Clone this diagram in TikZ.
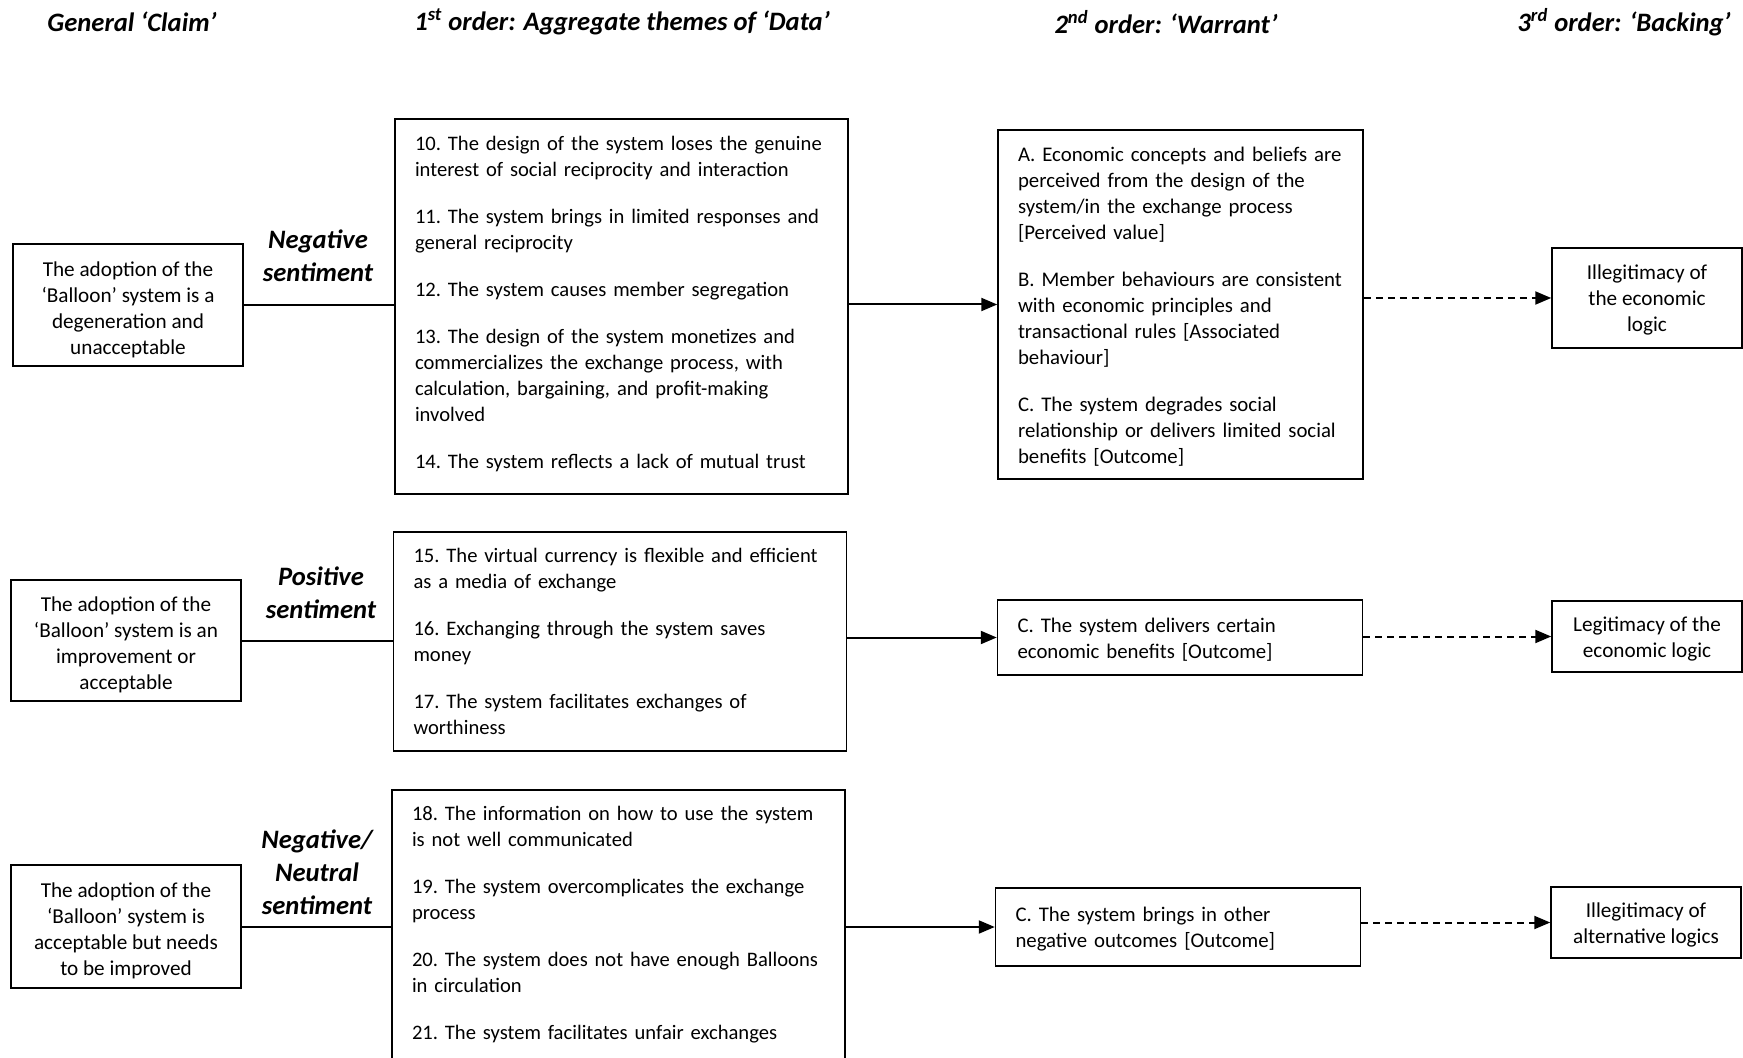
\documentclass[tikz,border=0pt]{standalone}
\usepackage{fontspec}
\setmainfont{Carlito}
\usepackage{tikz}
\usetikzlibrary{arrows.meta, calc}
\newcommand{\bodyfont}{\fontsize{10.6pt}{13pt}\selectfont\frenchspacing}
\newcommand{\listfont}{\fontsize{10.3pt}{13pt}\selectfont\frenchspacing}
\newcommand{\warrfont}{\fontsize{10.4pt}{13pt}\selectfont\frenchspacing}
\newcommand{\headfont}{\fontsize{13.3pt}{16.5pt}\selectfont\bfseries\itshape}
\tikzset{
    basebox/.style={rectangle, draw=black, line width=0.75pt, font=\bodyfont,
                    inner xsep=10pt, inner ysep=0pt},
    claimbox/.style={basebox, align=flush center, text width=111pt, inner xsep=2pt,
                     execute at begin node={\rule{0pt}{11.8pt}}},
    databox/.style={basebox, font=\listfont, align=left, text width=206.5pt,
                    execute at begin node={\rightskip=-14pt plus 1fil}},
    warrbox/.style={basebox, font=\warrfont, align=left, text width=162.5pt,
                    execute at begin node={\rightskip=-14pt plus 1fil\rule{0pt}{9.5pt}}},
    backbox/.style={basebox, align=flush center, text width=91pt, inner xsep=2pt,
                    execute at begin node={\rule{0pt}{9.5pt}}},
    colhead/.style={font=\headfont, inner sep=0pt},
    sentlbl/.style={font=\headfont, align=center, inner sep=0pt},
    link/.style={line width=1pt, draw=black},
    arrow/.style={-{Triangle[length=8pt, width=6.5pt]}, line width=1pt, draw=black},
    dasharrow/.style={arrow, dash pattern=on 3.5pt off 2.5pt},
}

\begin{document}
\begin{tikzpicture}[x=0.5pt, y=-0.5pt]
    \clip (0,0) rectangle (1743,1058);
    \useasboundingbox (0,0) rectangle (1743,1058);

    % column headings
    \node[colhead] (hclaim) at (132,22) {General ‘Claim’};
    \node[colhead] (hdata) at (622,22) {1\textsuperscript{st} order: Aggregate themes of ‘Data’};
    \node[colhead] (hwarr) at (1166,22) {2\textsuperscript{nd} order: ‘Warrant’};
    \node[colhead] (hback) at (1624,22) {3\textsuperscript{rd} order: ‘Backing’};

    % row 1: negative
    \node[claimbox, minimum height=61pt] (claimneg) at (128,305)
        {The adoption of the\\‘Balloon’ system is a\\degeneration and\\unacceptable};
    \node[databox, minimum height=187.5pt,
          execute at end node={\rule[-4.5pt]{0pt}{0pt}}] (dataneg) at (621.5,306.5)
        {10. The design of the system loses the genuine\\interest of social reciprocity and interaction\\[10.5pt]
         11. The system brings in limited responses and\\general reciprocity\\[10.5pt]
         12. The system causes member segregation\\[10.5pt]
         13. The design of the system monetizes and\\commercializes the exchange process, with\\calculation, bargaining, and profit-making\\involved\\[10.5pt]
         14. The system reflects a lack of mutual trust};
    \node[warrbox, minimum height=174.5pt] (warrneg) at (1180.5,304.5)
        {A. Economic concepts and beliefs are\\perceived from the design of the\\system/in the exchange process\\{}[Perceived value]\\[10.5pt]
         B. Member behaviours are consistent\\with economic principles and\\transactional rules [Associated\\behaviour]\\[10.5pt]
         C. The system degrades social\\relationship or delivers limited social\\benefits [Outcome]};
    \node[backbox, minimum height=50pt] (backneg) at (1647,298)
        {Illegitimacy of\\the economic\\logic};
    \node[sentlbl] (sentneg) at (318,255.5) {Negative\\sentiment};

    % row 2: positive
    \node[claimbox, minimum height=60.5pt] (claimpos) at (126,640.5)
        {The adoption of the\\‘Balloon’ system is an\\improvement or\\acceptable};
    \node[databox, minimum height=109.5pt] (datapos) at (620,641.5)
        {15. The virtual currency is flexible and efficient\\as a media of exchange\\[10.5pt]
         16. Exchanging through the system saves\\money\\[10.5pt]
         17. The system facilitates exchanges of\\worthiness};
    \node[warrbox, minimum height=37.5pt] (warrpos) at (1180,637.5)
        {C. The system delivers certain\\economic benefits [Outcome]};
    \node[backbox, minimum height=35.5pt] (backpos) at (1647,636.5)
        {Legitimacy of the\\economic logic};
    \node[sentlbl] (sentpos) at (321,593) {Positive\\sentiment};

    % row 3: negative/neutral
    \node[claimbox, minimum height=61.5pt] (claimneu) at (126,926.5)
        {The adoption of the\\‘Balloon’ system is\\acceptable but needs\\to be improved};
    \node[databox, minimum height=135pt] (dataneu) at (618.5,925)
        {18. The information on how to use the system\\is not well communicated\\[10.5pt]
         19. The system overcomplicates the exchange\\process\\[10.5pt]
         20. The system does not have enough Balloons\\in circulation\\[10.5pt]
         21. The system facilitates unfair exchanges};
    \node[warrbox, minimum height=39pt] (warrneu) at (1178,927)
        {C. The system brings in other\\negative outcomes [Outcome]};
    \node[backbox, minimum height=35.5pt] (backneu) at (1646,922.5)
        {Illegitimacy of\\alternative logics};
    \node[sentlbl] (sentneu) at (317,872) {Negative/\\Neutral\\sentiment};

    % connectors
    \draw[link] (claimneg.east) -- (claimneg.east -| dataneg.west);
    \draw[arrow] (dataneg.east |- warrneg.west) -- (warrneg.west);
    \draw[dasharrow] (warrneg.east |- backneg.west) -- (backneg.west);

    \draw[link] (claimpos.east) -- (claimpos.east -| datapos.west);
    \draw[arrow] (datapos.east |- warrpos.west) -- (warrpos.west);
    \draw[dasharrow] (warrpos.east |- backpos.west) -- (backpos.west);

    \draw[link] (claimneu.east) -- (claimneu.east -| dataneu.west);
    \draw[arrow] (dataneu.east |- warrneu.west) -- (warrneu.west);
    \draw[dasharrow] (warrneu.east |- backneu.west) -- (backneu.west);
\end{tikzpicture}
\end{document}
